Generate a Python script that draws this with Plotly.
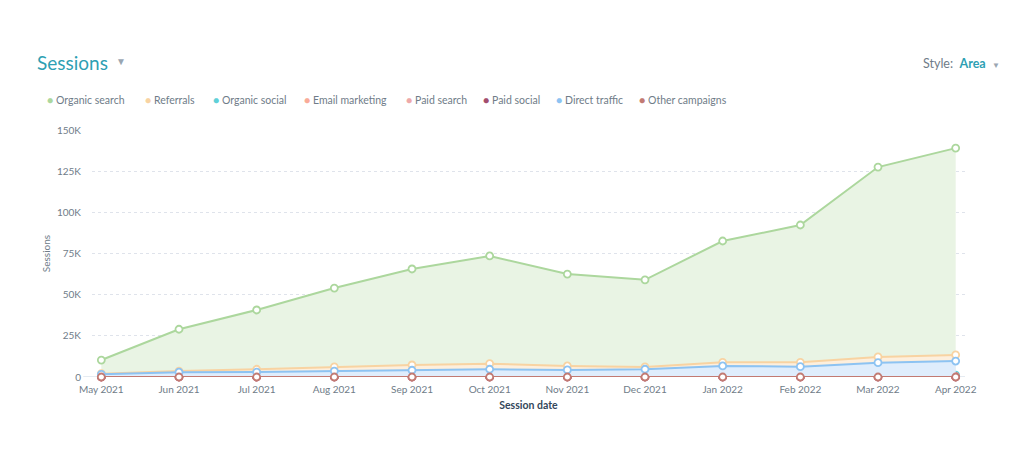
import plotly.graph_objects as go

months = [
    "May 2021", "Jun 2021", "Jul 2021", "Aug 2021", "Sep 2021", "Oct 2021",
    "Nov 2021", "Dec 2021", "Jan 2022", "Feb 2022", "Mar 2022", "Apr 2022",
]

organic_search = [10300, 29000, 40700, 54000, 65600, 73500, 62500, 59000, 82600, 92300, 127500, 139000]
referrals = [2000, 3600, 4700, 6100, 7300, 8100, 6700, 6100, 8900, 8900, 12200, 13400]
organic_social = [300, 500, 600, 700, 800, 900, 800, 800, 900, 900, 1000, 1100]
email_marketing = [100, 150, 200, 200, 250, 250, 200, 200, 250, 250, 300, 300]
paid_search = [0, 0, 0, 0, 0, 0, 0, 0, 0, 0, 0, 0]
paid_social = [0, 0, 0, 0, 0, 0, 0, 0, 0, 0, 0, 0]
direct_traffic = [1600, 2900, 3000, 3600, 4100, 4700, 4300, 4700, 6700, 6300, 8700, 9700]
other_campaigns = [0, 0, 0, 0, 0, 0, 0, 0, 0, 0, 0, 0]

series_names = [
    "Organic search", "Referrals", "Organic social", "Email marketing",
    "Paid search", "Paid social", "Direct traffic", "Other campaigns",
]
series_values = [
    organic_search, referrals, organic_social, email_marketing,
    paid_search, paid_social, direct_traffic, other_campaigns,
]
line_colors = [
    "#acd79d", "#f8d3a2", "#5fd0d8", "#f9ab98",
    "#eea9a9", "#a34d6d", "#8dc3f2", "#c27a72",
]
fill_colors = [
    "#e9f4e4", "#fdefdd", "#e0f5f6", "#fde9e3",
    "#fbe9e9", "#f0dbe3", "#dfedfc", "#f3dedc",
]

y_ticks = [0, 25000, 50000, 75000, 100000, 125000, 150000]
y_labels = ["0", "25K", "50K", "75K", "100K", "125K", "150K"]

FONT = "Lato, 'Open Sans', sans-serif"
TEAL = "#2e9fb3"
GREY = "#6f7c88"
CARET = "#9aa6b2"

# page body has an 8px margin, so the figure is a bit smaller than the window
W, H = 1008, 436
L, T, R, B = 84, 122, 51, 67
PW, PH = W - L - R, H - T - B


def px(x):
    return (x - 8 - L) / PW


def py(y):
    return (H - B + 8 - y) / PH


fig = go.Figure()
for name, values, line_c, fill_c in zip(series_names, series_values, line_colors, fill_colors):
    fig.add_trace(
        go.Scatter(
            x=months,
            y=values,
            name=name,
            mode="lines+markers",
            fill="tozeroy",
            fillcolor=fill_c,
            line=dict(color=line_c, width=2),
            marker=dict(symbol="circle", size=7, color="white",
                        line=dict(color=line_c, width=1.8)),
            cliponaxis=False,
            showlegend=False,
        )
    )

# legend row drawn as text so spacing matches the original widget
legend_x = [45, 143, 211, 302, 404, 481, 554, 637]
for lx, name, color in zip(legend_x, series_names, line_colors):
    fig.add_annotation(
        x=px(lx), y=py(100), xref="paper", yref="paper",
        xanchor="left", yanchor="middle", showarrow=False,
        text=f"<span style='color:{color}'>●</span> {name}",
        font=dict(family=FONT, size=10.5, color=GREY),
    )

fig.add_annotation(
    x=px(35), y=py(62), xref="paper", yref="paper",
    xanchor="left", yanchor="middle", showarrow=False,
    text="Sessions",
    font=dict(family=FONT, size=19, color=TEAL),
)
fig.add_annotation(
    x=px(114), y=py(61), xref="paper", yref="paper",
    xanchor="left", yanchor="middle", showarrow=False,
    text="▼",
    font=dict(family=FONT, size=10, color=CARET),
)
fig.add_annotation(
    x=px(1002), y=py(64), xref="paper", yref="paper",
    xanchor="right", yanchor="middle", showarrow=False,
    text=f"Style:  <b style='color:{TEAL}'>Area</b>  <span style='color:{CARET};font-size:8px'>▼</span>",
    font=dict(family=FONT, size=12.5, color=GREY),
)

fig.update_layout(
    width=W,
    height=H,
    margin=dict(l=L, r=R, t=T, b=B),
    paper_bgcolor="white",
    plot_bgcolor="white",
    font=dict(family=FONT, size=10, color=GREY),
    showlegend=False,
    hovermode="x",
)
fig.update_xaxes(
    type="category",
    range=[-0.12, 11.12],
    showgrid=False,
    zeroline=False,
    showline=False,
    ticks="",
    ticklabelstandoff=5,
    tickfont=dict(size=10, color=GREY),
    title=dict(text="<b>Session date</b>", font=dict(size=10.5, color="#33475b"), standoff=7),
)
fig.update_yaxes(
    range=[0, 150000],
    tickvals=y_ticks,
    ticktext=y_labels,
    showgrid=True,
    gridcolor="#dfe3eb",
    griddash="dot",
    zeroline=False,
    showline=False,
    ticks="",
    ticklabelstandoff=10,
    tickfont=dict(size=10, color=GREY),
    title=dict(text="Sessions", font=dict(size=10, color=GREY), standoff=4),
)
fig.add_shape(
    type="line", xref="paper", yref="y", x0=-0.01, x1=1, y0=0, y1=0,
    line=dict(color="#cbd6e2", width=1), layer="below",
)

fig.write_html("out.html")
